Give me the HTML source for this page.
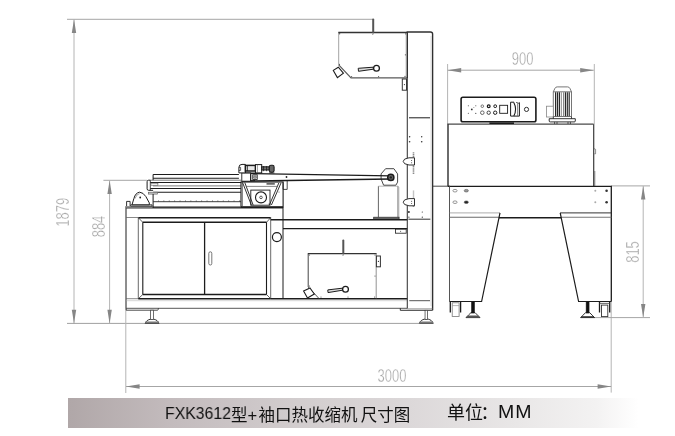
<!DOCTYPE html>
<html lang="zh">
<head>
<meta charset="utf-8">
<title>FXK3612型+袖口热收缩机 尺寸图</title>
<style>
html,body{margin:0;padding:0;background:#fff;}
body{width:675px;height:436px;overflow:hidden;position:relative;font-family:"Liberation Sans","Noto Sans CJK SC",sans-serif;}
#dw{position:absolute;left:0;top:0;width:675px;height:436px;display:block;}
#bar{position:absolute;left:68px;top:398px;width:607px;height:30px;
 background:linear-gradient(to right,#b0a7a8 0%,#c3bbbd 17%,#d2cdce 38%,#dbd7d8 55%,#e9e7e7 74%,#f3f2f2 87%,#ffffff 94%);}
.cap{position:absolute;height:30px;line-height:30px;color:#111;white-space:nowrap;will-change:transform;}
#c1a{left:165.2px;top:399.2px;font-size:17px;transform-origin:0 50%;transform:scaleX(0.93);}
#c1b{left:230.6px;top:399.6px;font-size:16.5px;word-spacing:-1.4px;}
#c1b i{font-style:normal;padding-right:1.4px;}
#c2a{left:447.2px;top:397.6px;font-size:18px;}
#c2a i{font-style:normal;margin-left:-2.4px;}
#c2b{left:498.2px;top:397.2px;font-size:18.6px;transform-origin:0 50%;transform:scaleX(1.05);letter-spacing:0.9px;}
.dim{font-family:"Liberation Sans",sans-serif;font-size:18.2px;fill:#a0a0a0;stroke:#fff;stroke-width:0.4px;}
#dw{will-change:transform;}
</style>
</head>
<body>
<div id="bar"></div>
<div class="cap" id="c1a">FXK3612</div>
<div class="cap" id="c1b">型<i>+</i>袖口热收缩机 尺寸图</div>
<div class="cap" id="c2a">单位<i>：</i></div>
<div class="cap" id="c2b">MM</div>
<svg id="dw" width="675" height="436" viewBox="0 0 675 436">
<!-- ===== dimension lines ===== -->
<g id="dims" fill="none" stroke="#b4b4b4" stroke-width="1">
  <path d="M67 19.3H373" stroke="#a6a6a6"/>
  <path d="M74 19.3V323.4"/>
  <path d="M67 323.4H419.3" stroke="#a0a0a0"/>
  <path d="M103.4 180.3H147.1" stroke="#a6a6a6"/>
  <path d="M109.6 180.4V323.4"/>
  <path d="M125.8 308V393"/>
  <path d="M611.2 301V392.6"/>
  <path d="M126 386.5H611.2" stroke="#a6a6a6"/>
  <path d="M447.6 64V124"/>
  <path d="M594.3 64V186"/>
  <path d="M447.6 70.2H593.8" stroke="#a6a6a6"/>
  <path d="M611 185.9H650" stroke="#a6a6a6"/>
  <path d="M594 317.6H650" stroke="#a6a6a6"/>
  <path d="M643.2 186V317.6"/>
</g>
<g id="arrows" fill="#868686" stroke="none">
  <path d="M74 19.3L76.2 33H71.8Z"/>
  <path d="M74 323.4L76.2 309.8H71.8Z"/>
  <path d="M109.6 180.4L111.8 194H107.4Z"/>
  <path d="M109.6 323.4L111.8 309.8H107.4Z"/>
  <path d="M126 386.5L139.6 384.3V388.7Z"/>
  <path d="M611.2 386.5L597.6 384.3V388.7Z"/>
  <path d="M447.6 70.2L461.2 68V72.4Z"/>
  <path d="M593.8 70.2L580.2 68V72.4Z"/>
  <path d="M643.2 186L645.4 199.6H641Z"/>
  <path d="M643.2 317.6L645.4 304H641Z"/>
</g>
<g id="dimtext" class="dim" text-anchor="middle">
  <text transform="translate(69.2 212.2) rotate(-90) scale(0.715 1)">1879</text>
  <text transform="translate(104.9 226.5) rotate(-90) scale(0.715 1)">884</text>
  <text transform="translate(638.9 252) rotate(-90) scale(0.715 1)">815</text>
  <text transform="translate(522.7 65.4) scale(0.715 1)">900</text>
  <text transform="translate(392 381.7) scale(0.715 1)">3000</text>
</g>

<!-- ===== main machine (left) ===== -->
<g id="mainbody" fill="none" stroke="#1c1c1c" stroke-width="1" stroke-linejoin="miter">
  <!-- cabinet outline -->
  <path d="M126 206.2V308.3" stroke-width="1"/>
  <path d="M126.2 308.3H407.4" stroke-width="0.9" stroke="#444"/>
  <path d="M126.2 208H283" stroke-width="0.9"/>
  <path d="M153 207.2H240.4" stroke-width="1.2"/>
  <rect x="126.2" y="206.2" width="26.9" height="1.8" fill="#777" stroke="none"/>
  <!-- doors -->
  <path d="M138.3 217.7H270.7M138.3 298.7H270.7" stroke-width="1.5"/>
  <path d="M138.3 217.7V298.7M270.7 217.7V298.7" stroke-width="0.8" stroke="#444"/>
  <path d="M142.8 222.3H266.5M142.8 294.5H266.5" stroke-width="1.4"/>
  <path d="M142.8 222.3V294.5M266.5 222.3V294.5" stroke-width="1.1"/>
  <path d="M138.3 217.7L142.8 222.3M270.7 217.7L266.5 222.3M138.3 298.7L142.8 294.5M270.7 298.7L266.5 294.5" stroke-width="0.7"/>
  <path d="M204.6 222.3V294.5" stroke-width="1.3"/>
  <rect x="208.8" y="251.8" width="3" height="13.2" rx="1.5" stroke-width="0.8" stroke="#555"/>
  <path d="M126.2 217.5H138.3M126.2 298.7H138.3" stroke-width="0.7" stroke="#555"/>
  <!-- bottom rail of cabinet -->
  <path d="M270.7 298.8H407.4" stroke-width="1.4"/>
  <path d="M126.2 300.7H407.4" stroke-width="0.5" stroke="#aaa"/>
  <!-- mid column -->
  <path d="M283 207V298.8" stroke-width="1"/>
  <circle cx="276.9" cy="237.1" r="4.5" stroke-width="1.2"/>
  <!-- right bay -->
  <path d="M270.7 219.7H407.4" stroke-width="1.5"/>
  <path d="M283 228.6H407.4" stroke-width="1.3"/>
  <rect x="395.5" y="229.1" width="10.7" height="4.1" stroke-width="0.8"/>
  <circle cx="400.6" cy="231.2" r="0.5" fill="#333" stroke="none"/>
  <!-- base plates and feet -->
  <path d="M126.2 308.3V310.2H157.4Q158.4 310.2 158.4 308.3" stroke-width="0.8"/>
  <path d="M400.3 308.3V310.3H432.6" stroke-width="0.9"/>
</g>
<g id="feet" stroke="#1c1c1c" stroke-width="0.8" fill="none">
  <path d="M145.2 323.5C145.8 321.1 148.1 319.7 150.1 319.3H154.1C156.1 319.7 158.4 321.1 159.0 323.5Z" fill="#fff" stroke-width="0.9"/>
  <path d="M145.7 321.6H158.5L159.0 323.5H145.2Z" fill="#777" stroke="none"/>
  <rect x="150.65" y="310.2" width="2.9" height="9.4" fill="#fff" stroke-width="0.7" stroke="#333"/>
  <path d="M419.4 323.4C420.0 321.0 422.3 319.6 424.3 319.2H428.3C430.3 319.6 432.6 321.0 433.2 323.4Z" fill="#fff" stroke-width="0.9"/>
  <path d="M419.9 321.5H432.7L433.2 323.4H419.4Z" fill="#777" stroke="none"/>
  <rect x="425.05" y="310.3" width="2.5" height="9.2" fill="#fff" stroke-width="0.7" stroke="#333"/>
</g>

<!-- lower film box -->
<g id="filmlow" fill="none" stroke="#1c1c1c" stroke-width="0.9">
  <path d="M308.2 287V253.7" stroke="#444" stroke-width="1"/>
  <path d="M307.8 253.7H376.6" stroke="#333" stroke-width="1.2"/>
  <path d="M308.2 287L318.9 298.4" stroke="#555" stroke-width="1"/>
  <path d="M376.2 253.7V298.4" stroke="#777" stroke-width="0.8"/>
  <path d="M343.3 253.6V240.6" stroke="#555" stroke-width="2" stroke-linecap="round"/>
  <rect x="376.4" y="256" width="4" height="10.8" stroke-width="1" stroke="#333"/>
  <circle cx="378.4" cy="261.4" r="0.6" fill="#333" stroke="none"/>
  <path d="M310 288L314.3 294L307.5 298L303.6 291.1Z" fill="#fff" stroke-width="1.1"/>
  <path d="M327.8 289.9L342.4 288.2L342.6 290.2L328 292.6Z" fill="#ddd" stroke-width="1"/>
  <circle cx="345.5" cy="289.2" r="2.9" fill="#fff" stroke-width="1.3"/>
  <g fill="#555" stroke="none">
    <circle cx="309.5" cy="255" r="0.6"/><circle cx="343" cy="255.2" r="0.5"/><circle cx="375" cy="255" r="0.6"/>
    <circle cx="375" cy="276" r="0.6"/><circle cx="309.5" cy="286" r="0.6"/><circle cx="321" cy="297" r="0.6"/>
    <circle cx="348" cy="297" r="0.6"/><circle cx="374.6" cy="297" r="0.6"/>
  </g>
</g>

<!-- upper film box -->
<g id="filmup" fill="none" stroke="#1c1c1c" stroke-width="0.9">
  <path d="M338.7 64.8V32.5" stroke="#8a8a8a" stroke-width="0.8"/>
  <path d="M338.3 32.5H407.2" stroke="#333" stroke-width="1.3"/>
  <path d="M338.7 64.8L351 77.9H407" stroke="#5a5a5a" stroke-width="1.2"/>
  <path d="M406 33V78" stroke="#aaa" stroke-width="0.6"/>
  <path d="M373.2 32.6V19.6" stroke="#555" stroke-width="2" stroke-linecap="round"/>
  <rect x="402.3" y="79" width="4.2" height="11.2" stroke-width="1" stroke="#333"/>
  <circle cx="404.4" cy="84.6" r="0.6" fill="#333" stroke="none"/>
  <path d="M338.3 67.2L343.4 73.2L337.4 77.6L333.3 70.4Z" fill="#fff" stroke-width="1.1"/>
  <path d="M358.2 68.3L373.2 67.2L373.4 69.2L358.5 71.3Z" fill="#ddd" stroke-width="1"/>
  <circle cx="376.5" cy="68.2" r="2.9" fill="#fff" stroke-width="1.3"/>
  <g fill="#555" stroke="none">
    <circle cx="339.6" cy="33.8" r="0.7"/><circle cx="372.8" cy="34.2" r="0.5"/><circle cx="405.6" cy="33.8" r="0.6"/>
    <circle cx="405.4" cy="54.8" r="0.6"/><circle cx="339.4" cy="64.4" r="0.6"/><circle cx="351.6" cy="76.6" r="0.6"/>
    <circle cx="378.6" cy="76.6" r="0.6"/><circle cx="405" cy="76.4" r="0.6"/>
  </g>
</g>

<!-- tall column -->
<g id="column" fill="none" stroke="#1c1c1c" stroke-width="1">
  <path d="M407.3 308.6V78" stroke-width="1.1" stroke="#3c3c3c"/>
  <path d="M407.3 78V32H430.4Q432.6 32 432.6 34V310.3" stroke-width="1.4" stroke="#303030"/>
  <path d="M407.4 308.8H432.6" stroke-width="0.7" stroke="#777"/>
  <path d="M409 117.8H430" stroke-width="1"/>
  <path d="M408.4 219.2H430.4" stroke-width="0.9"/>
  <path d="M409.3 300.7H430" stroke-width="1" stroke="#555"/>
  <path d="M413.5 152.2V173.9" stroke-width="1.6" stroke="#8a8a8a" stroke-dasharray="1.4 0.5"/>
  <path d="M413.5 190.4V198.6" stroke-width="1.4" stroke="#c4c4c4"/>
  <path d="M413.5 198.6V207" stroke-width="1.6" stroke="#8a8a8a" stroke-dasharray="1.4 0.5"/>
  <path d="M414.5 157.8H409Q403.2 158.6 403.2 161.4Q403.2 164.2 409 165H414.5Z" fill="#fff" stroke-width="0.9"/>
  <path d="M414.5 198.6H409Q403.2 199.4 403.2 202.2Q403.2 205 409 205.8H414.5Z" fill="#fff" stroke-width="0.9"/>
  <path d="M431 36V306" stroke-width="0.5" stroke="#bbb"/>
  <path d="M432.6 186.2H450" stroke-width="0.9" stroke="#333"/>
</g>
<g id="coldots" fill="#333" stroke="none">
  <circle cx="409.6" cy="136.7" r="0.75"/><circle cx="421.7" cy="136.7" r="0.7"/>
  <circle cx="409.6" cy="141.8" r="0.8"/><circle cx="421.7" cy="141.8" r="0.8"/>
  <circle cx="408.9" cy="212" r="1"/><circle cx="422.3" cy="212" r="0.6"/>
  <circle cx="408.9" cy="217.2" r="0.6"/><circle cx="422.3" cy="217.2" r="0.6"/>
  <circle cx="411.6" cy="160.4" r="0.5"/><circle cx="411.6" cy="162.8" r="0.5"/>
  <circle cx="411.6" cy="201.2" r="0.5"/><circle cx="411.6" cy="203.6" r="0.5"/>
</g>

<!-- cylinder + pulley + arm -->
<g id="arm" fill="none" stroke="#1c1c1c" stroke-width="0.9">
  <path d="M378.4 217.2V186.2M398 186.2V217.2" stroke-width="0.9" stroke="#555"/>
  <path d="M378.4 186.2H398" stroke-width="0.7" stroke="#999"/>
  <path d="M399.2 187V217" stroke-width="0.5" stroke="#bbb"/>
  <rect x="373.7" y="217.2" width="25.4" height="1.8" stroke-width="0.7" fill="#888"/>
  <path d="M381.1 179V173.9L385.6 168.7H393.9L397.6 173.9V182.1L395.9 185.2H383.6Z" fill="#fff" stroke="#333" stroke-width="0.9"/>
  <path d="M241.8 181.1L390.4 179" stroke-width="1.6"/>
  <path d="M250.7 173.5L390.4 175.8" stroke-width="1.2"/>
  <circle cx="390.8" cy="177.4" r="3.1" fill="#666" stroke-width="1.5"/>
  <circle cx="390.8" cy="177.4" r="1.2" fill="#222" stroke="none"/>
</g>

<!-- conveyor -->
<g id="conveyor" fill="none" stroke="#1c1c1c" stroke-width="0.9">
  <path d="M153.1 180.2V174.5H238.9" stroke-width="1"/>
  <path d="M153.1 178.3H238.9" stroke-width="1.05"/>
  <path d="M150.3 180.2H241" stroke-width="0.7" stroke="#444"/>
  <path d="M150.3 182.5H241" stroke-width="1.05"/>
  <path d="M153 185.9H241" stroke-width="0.7" stroke="#444"/>
  <path d="M150.3 188.4H241" stroke-width="1.05"/>
  <path d="M153.1 192.2H241" stroke-width="1.05"/>
  <path d="M150.3 180.2H148.6Q147.1 180.2 147.1 181.7V188.8Q147.1 190.3 148.6 190.3H153.1" stroke-width="1"/>
  <path d="M150.3 180.2V190.3" stroke-width="0.8"/>
  <rect x="150.9" y="183.2" width="7" height="2" stroke-width="0.6" stroke="#555" fill="#fff"/>
  <rect x="148.4" y="192.2" width="9.2" height="1.9" stroke-width="0.6" stroke="#555" fill="#ccc"/>
  <path d="M153.1 194V208" stroke-width="1"/>
  <path d="M153.1 201.7H241" stroke-width="0.9" stroke="#2a2a2a"/>
  <path d="M158 201H240" stroke-width="0.8" stroke-dasharray="0.9 4.5" stroke="#333"/>
  <path d="M126.6 206V201.4H130.1V206" stroke-width="0.9"/>
  <path d="M130.7 204.8H152V206.2H130.7Z" stroke-width="0.8" fill="#fff"/>
  <path d="M132 204.8L133.9 198.5Q135.4 192.8 139.6 192.2Q143.2 192.4 145.9 196.6L149.3 202.9V204.8Z" fill="#fff" stroke-width="1"/>
  <path d="M134.8 198.8Q137 193.6 139.6 193.6" stroke-width="0.6" stroke="#666"/>
  <circle cx="140.2" cy="197.5" r="0.9" fill="#222" stroke="none"/>
</g>

<!-- sealing head / motor box -->
<g id="head" fill="none" stroke="#1c1c1c" stroke-width="0.9">
  <rect x="241" y="182" width="42.1" height="24.8" stroke-width="1.1"/>
  <path d="M242.4 182V206.8" stroke-width="0.7" stroke="#444"/>
  <path d="M242.6 182.6L251.4 205.2M244.8 182.6L253.2 205.2" stroke-width="0.9"/>
  <path d="M281 183L271.4 205M278.8 183L269.4 205" stroke-width="0.9"/>
  <path d="M246 186.4H277.6" stroke-width="0.7" stroke="#555"/>
  <rect x="250.8" y="190.1" width="19.2" height="15.1" stroke-width="0.9"/>
  <circle cx="261" cy="197.4" r="5.5" stroke-width="1.1"/>
  <circle cx="261" cy="197.4" r="1.3" stroke-width="0.7"/>
  <rect x="266.5" y="183.2" width="8.3" height="1.4" fill="#444" stroke="none"/>
  <circle cx="269" cy="204" r="0.5" fill="#333" stroke="none"/><circle cx="279" cy="192" r="0.5" fill="#555" stroke="none"/>
  <path d="M240.4 207.3H283.1" stroke-width="1.2"/>
  <!-- arm root -->
  <rect x="241.8" y="172.9" width="8.9" height="8.3" stroke-width="0.9" fill="#fff"/>
  <path d="M250.7 173.6V181" stroke-width="1"/>
  <rect x="252.8" y="174.8" width="4.4" height="4.6" stroke-width="0.9"/>
  <circle cx="255" cy="177.1" r="1.2" stroke-width="0.7"/>
  <circle cx="286.5" cy="177" r="0.9" fill="#222" stroke="none"/>
  <!-- top mechanism -->
  <path d="M238.9 172.9V167.4Q238.9 164.4 242 164.4H245.4V172.9Z" stroke-width="1" fill="#fff"/>
  <path d="M238.9 167.4H240.6V170.4H238.9" stroke-width="0.7"/>
  <rect x="245.4" y="165.4" width="10" height="5.6" stroke-width="1.5" fill="#e8e8e8"/>
  <path d="M247.4 165.4V171" stroke-width="0.8"/>
  <path d="M245.4 171V172.9H255.4V171" stroke-width="0.8"/>
  <rect x="255.5" y="164.6" width="6.2" height="8.3" stroke-width="1" fill="#fff"/>
  <path d="M257.4 164.6V172.9" stroke-width="0.6" stroke="#555"/>
  <rect x="261.7" y="166.8" width="7.6" height="3.2" stroke-width="1" fill="#777"/>
  <path d="M263.6 166V171.2M266.6 166V171.2" stroke-width="0.8"/>
  <rect x="269.3" y="165.3" width="4.8" height="6.9" rx="1.6" stroke-width="1.1" fill="#666"/>
  <path d="M269 172.9H274.4" stroke-width="0.8"/>
  <path d="M283.1 182.4V189.4H287.2V180.4" stroke-width="0.8"/>
</g>

<!-- ===== shrink tunnel (right) ===== -->
<g id="tunnel" fill="none" stroke="#1c1c1c" stroke-width="1">
  <path d="M448 186.3V124.2" stroke-width="1.3"/>
  <path d="M447.4 124.1H593.6" stroke-width="1"/>
  <path d="M593.5 124.2V186.2" stroke-width="0.9" stroke="#3c3c3c"/>
  <path d="M594 148.6L595.6 149.4V153.8H594.4" stroke-width="0.6" stroke="#444"/>
  <path d="M448 186.3H611.3V301.5" stroke-width="1.3"/>
  <path d="M449.5 186.3V301.5" stroke-width="1" stroke="#555"/>
  <path d="M449.5 212.9H500" stroke-width="0.7" stroke="#8a8a8a"/>
  <path d="M449.5 217.3H499" stroke-width="1.1" stroke="#6a6a6a"/>
  <path d="M560.2 212.9H611.3" stroke-width="1" stroke="#333"/>
  <path d="M561.2 217.3H611.3" stroke-width="1.1" stroke="#777"/>
  <path d="M499 217.8H561.2" stroke-width="1.5"/>
  <path d="M500 212.9L481.6 301.5H449.5" stroke-width="1.2"/>
  <path d="M560.2 212.9L578.6 301.5H611.3" stroke-width="1.2"/>
  <path d="M594.8 171V186" stroke-width="0.7" stroke="#555"/>
</g>
<g id="tunneldots" stroke="#555" stroke-width="0.6" fill="none">
  <ellipse cx="455" cy="190.7" rx="2.1" ry="1.3"/><ellipse cx="466.3" cy="190.7" rx="2.1" ry="1.3" fill="#999"/>
  <ellipse cx="455" cy="202.2" rx="2.1" ry="1.3"/><ellipse cx="466.3" cy="202.2" rx="2.1" ry="1.3" fill="#222"/>
  <circle cx="595.3" cy="190.7" r="1" fill="#aaa" stroke="none"/><circle cx="606.6" cy="190.7" r="1.3" fill="#333" stroke="none"/>
  <circle cx="595.3" cy="202.2" r="1" fill="#aaa" stroke="none"/><circle cx="606.6" cy="202.2" r="1.3" fill="#333" stroke="none"/>
</g>
<g id="tunnelfeet" stroke="#1c1c1c" stroke-width="0.8" fill="none">
  <path d="M450.3 301.5V312.5M460.6 301.5V312.5" stroke-width="1.3"/>
  <rect x="452.2" y="302.8" width="6.9" height="13.8" stroke="#777" stroke-width="0.8" fill="#fff"/>
  <path d="M452.2 305.6H459.1" stroke="#999" stroke-width="0.7"/>
  <path d="M466.0 317.6Q468.4 315.2 471.0 312.6H475.0Q477.6 315.2 480.0 317.6Z" fill="#fff" stroke-width="0.9"/>
  <path d="M467.8 315.6H478.2L480.0 317.6H466.0Z" fill="#555" stroke="none"/>
  <rect x="471.55" y="301.5" width="2.9" height="11.5" fill="#111" stroke-width="0.6"/>
  <path d="M580.6 317.6Q583.0 315.2 585.6 312.6H589.6Q592.2 315.2 594.6 317.6Z" fill="#fff" stroke-width="0.9"/>
  <path d="M581.9 316.2H593.3L594.6 317.6H580.6Z" fill="#222" stroke="none"/>
  <rect x="586.15" y="301.5" width="2.9" height="11.5" fill="#111" stroke-width="0.6"/>
  <path d="M599.5 301.5V312.5M609.7 301.5V312.5" stroke-width="1.3"/>
  <path d="M599.5 303.4H609.7" stroke-width="0.8" stroke="#444"/>
  <rect x="601.5" y="305.1" width="6.3" height="11.5" stroke="#333" stroke-width="0.9" fill="#fff"/>
</g>

<!-- control panel -->
<g id="panel" fill="none" stroke="#1c1c1c" stroke-width="0.8">
  <rect x="461.1" y="97.3" width="74.8" height="24.5" rx="1.8" stroke-width="1.6"/>
  <path d="M489.4 123.2H514" stroke-width="1.7"/>
  <circle cx="482.3" cy="106.2" r="1.3" stroke="#555"/><circle cx="488.7" cy="106.2" r="1.4" stroke-width="1.2"/><circle cx="495.2" cy="106.2" r="1.4" stroke-width="1"/>
  <circle cx="482.3" cy="112.7" r="1.8" stroke="#444"/><circle cx="488.7" cy="112.7" r="1.7"/><circle cx="495.2" cy="112.7" r="1.7" stroke-width="1"/>
  <rect x="499.7" y="105.3" width="7.9" height="8" stroke-width="0.9"/>
  <path d="M510.6 102.2V116.1H519.4V102.6" stroke-width="1"/>
  <path d="M510.6 102.2H514" stroke-width="1"/>
  <path d="M513.8 102.4Q517.4 109.2 513.8 116" stroke-width="1.1"/>
  <path d="M516.2 102.4Q519 104 519.4 102.6" stroke-width="0.8"/>
  <path d="M517.6 103.4V115.8" stroke-width="0.7" stroke="#555"/>
  <circle cx="526.5" cy="109.4" r="2.1" stroke-width="0.9"/>
</g>
<g id="paneldots" fill="#333" stroke="none">
  <circle cx="468.3" cy="105.8" r="0.5"/><circle cx="471.8" cy="109.4" r="0.9"/><circle cx="468.3" cy="113.3" r="0.5"/>
  <circle cx="475.8" cy="105.8" r="0.5"/><circle cx="475.8" cy="113.3" r="0.6"/><circle cx="473.9" cy="107.5" r="0.4"/>
</g>

<!-- fan motor -->
<g id="motor" fill="none" stroke="#1c1c1c" stroke-width="0.8">
  <path d="M553.3 116.5V91.8L555 88.2Q555.7 86.9 557.2 86.9H567.6Q569.1 86.9 569.8 88.2L571.5 91.8V116.5Z" fill="#fff" stroke="#666" stroke-width="0.9"/>
  <path d="M553.3 91.8H571.5" stroke-width="0.8" stroke="#555"/>
  <g stroke="#2a2a2a" stroke-width="1.2">
    <path d="M555.6 92.2V116.2M557.5 92.2V116.2M559.4 92.2V116.2M565.4 92.2V116.2M567.3 92.2V116.2M569.2 92.2V116.2"/>
  </g>
  <path d="M561.3 92.2V116.2M563.5 92.2V116.2" stroke="#888" stroke-width="1"/>
  <rect x="546.4" y="106.2" width="6.9" height="10.8" fill="#fff" stroke="#888" stroke-width="0.8"/>
  <path d="M549.2 118.7H575.3V121Q575.3 121.9 574.3 121.9H550.2Q549.2 121.9 549.2 121Z" fill="#fff" stroke-width="0.9"/>
  <path d="M553.3 116.5V118.7M571.5 116.5V118.7" />
  <path d="M554.6 121.9V124M557 121.9V124M568 121.9V124M570.4 121.9V124" stroke-width="0.7"/>
</g>
</svg>
</body>
</html>
